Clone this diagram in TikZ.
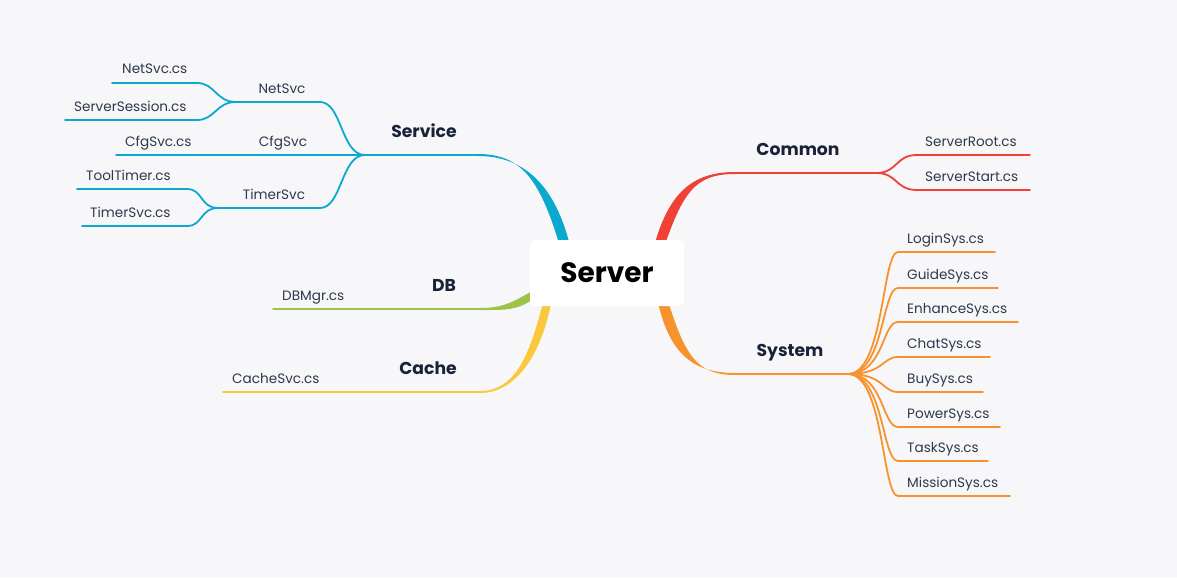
\documentclass[tikz,border=0pt]{standalone}
\usepackage{fontspec}
\setmainfont{Poppins}
\usepackage{tikz}
\usetikzlibrary{positioning,calc}
\definecolor{bgcol}{HTML}{F7F7FA}
\definecolor{svccol}{HTML}{0BA9CE}
\definecolor{comcol}{HTML}{EF4136}
\definecolor{syscol}{HTML}{F7932D}
\definecolor{dbcol}{HTML}{9DC34C}
\definecolor{cachecol}{HTML}{FAC83A}
\definecolor{leaftext}{HTML}{2E394B}
\definecolor{topictext}{HTML}{1A2238}

\begin{document}
\begin{tikzpicture}[x=1pt,y=-1pt,
	leaf/.style={font=\fontsize{13.6}{16}\selectfont, text=leaftext, inner sep=0pt, anchor=base west},
	sublab/.style={leaf, anchor=base},
	topic/.style={font=\fontsize{17.2}{19}\selectfont\bfseries, text=topictext, inner sep=0pt, anchor=base},
	wire/.style={line width=1.8pt, line cap=round}]
	% fond
	\fill[bgcol] (0,0) rectangle (1177,578);
	
	% points de jonction
	\coordinate (svcRoot) at (566,250);
	\coordinate (svcEnd) at (478,155);
	\coordinate (svcJ) at (365,155);
	\coordinate (netJ) at (236,102);
	\coordinate (timJ) at (218,208);
	\coordinate (dbRoot) at (536,293);
	\coordinate (dbEnd) at (480,309);
	\coordinate (caRoot) at (548,298);
	\coordinate (caEnd) at (480,392);
	\coordinate (coRoot) at (658,250);
	\coordinate (coEnd) at (735,173);
	\coordinate (coJ) at (876,173);
	\coordinate (syRoot) at (662,298);
	\coordinate (syEnd) at (735,374);
	\coordinate (syJ) at (848,374);
	
	% Service
	\fill[svccol] ($(svcRoot)+(-5,0)$) .. controls +(-20,-68) and +(45,0) .. ($(svcEnd)+(0,-1)$) -- ($(svcEnd)+(0,1)$) .. controls +(45,0) and +(-15,-66) .. ($(svcRoot)+(5,0)$) -- cycle;
	\draw[wire, svccol] (svcEnd) -- (svcJ);
	\draw[wire, svccol] (svcJ) .. controls +(-24,0) and +(22,0) .. (320,102) -- (netJ);
	\draw[wire, svccol] (netJ) .. controls +(-20,0) and +(18,0) .. (197,83) -- (112,83);
	\draw[wire, svccol] (netJ) .. controls +(-20,0) and +(18,0) .. (197,120) -- (65,120);
	\draw[wire, svccol] (svcJ) -- (116,155);
	\draw[wire, svccol] (svcJ) .. controls +(-24,0) and +(22,0) .. (320,208) -- (timJ);
	\draw[wire, svccol] (timJ) .. controls +(-18,0) and +(16,0) .. (187,189) -- (77,189);
	\draw[wire, svccol] (timJ) .. controls +(-18,0) and +(16,0) .. (187,226) -- (82,226);
	\node[topic] (service) at (424,137) {Service};
	\node[sublab] (netsvc) at (282,93) {NetSvc};
	\node[sublab] (cfgsvc) at (283,146) {CfgSvc};
	\node[sublab] (timersvc) at (274,199) {TimerSvc};
	\node[leaf] (netsvccs) at (122,74) {NetSvc.cs};
	\node[leaf] (session) at (74,111) {ServerSession.cs};
	\node[leaf] (cfgsvccs) at (125,146) {CfgSvc.cs};
	\node[leaf] (tooltimer) at (86,180) {ToolTimer.cs};
	\node[leaf] (timersvccs) at (90,217) {TimerSvc.cs};
	
	% DB
	\fill[dbcol] ($(dbRoot)+(0,-4)$) .. controls +(-22,12) and +(25,0) .. ($(dbEnd)+(0,-1)$) -- ($(dbEnd)+(0,1)$) .. controls +(25,0) and +(-18,14) .. ($(dbRoot)+(0,4)$) -- cycle;
	\draw[wire, dbcol] (dbEnd) -- (273,309);
	\node[topic] (db) at (444,291) {DB};
	\node[leaf] (dbmgr) at (282,300) {DBMgr.cs};
	
	% Cache
	\fill[cachecol] ($(caRoot)+(-4,0)$) .. controls +(-14,58) and +(35,0) .. ($(caEnd)+(0,-1)$) -- ($(caEnd)+(0,1)$) .. controls +(35,0) and +(-10,58) .. ($(caRoot)+(4,0)$) -- cycle;
	\draw[wire, cachecol] (caEnd) -- (223,392);
	\node[topic] (cache) at (428,374) {Cache};
	\node[leaf] (cachesvc) at (232,383) {CacheSvc.cs};
	
	% Common
	\fill[comcol] ($(coRoot)+(-5,0)$) .. controls +(15,-58) and +(-42,0) .. ($(coEnd)+(0,-1)$) -- ($(coEnd)+(0,1)$) .. controls +(-40,0) and +(20,-58) .. ($(coRoot)+(5,0)$) -- cycle;
	\draw[wire, comcol] (coEnd) -- (coJ);
	\draw[wire, comcol] (coJ) .. controls +(22,0) and +(-22,0) .. (917,155) -- (1030,155);
	\draw[wire, comcol] (coJ) .. controls +(22,0) and +(-22,0) .. (917,190) -- (1030,190);
	\node[topic] (common) at (798,155) {Common};
	\node[leaf] (serverroot) at (925,146) {ServerRoot.cs};
	\node[leaf] (serverstart) at (925,181) {ServerStart.cs};
	
	% System
	\fill[syscol] ($(syRoot)+(-5,0)$) .. controls +(12,58) and +(-40,0) .. ($(syEnd)+(0,-1)$) -- ($(syEnd)+(0,1)$) .. controls +(-38,0) and +(18,58) .. ($(syRoot)+(5,0)$) -- cycle;
	\draw[wire, syscol] (syEnd) -- (syJ);
	\node[topic] (system) at (790,356) {System};
	\foreach \y/\xe/\name [count=\i] in {252/995/LoginSys.cs, 288/998/GuideSys.cs, 322/1018/EnhanceSys.cs, 357/990/ChatSys.cs, 392/983/BuySys.cs, 427/1000/PowerSys.cs, 461/988/TaskSys.cs, 496/1010/MissionSys.cs} {
		\draw[wire, syscol] (syJ) .. controls +(36,0) and +(-16,0) .. (898,\y) -- (\xe,\y);
		\node[leaf] (sys\i) at (907,\y-9) {\name};
	}
	
	% noeud central
	\node[fill=white, rounded corners=5pt, minimum width=154pt, minimum height=66pt, inner sep=0pt, font=\fontsize{28}{32}\selectfont\bfseries] (server) at (607,273) {Server};
\end{tikzpicture}
\end{document}
